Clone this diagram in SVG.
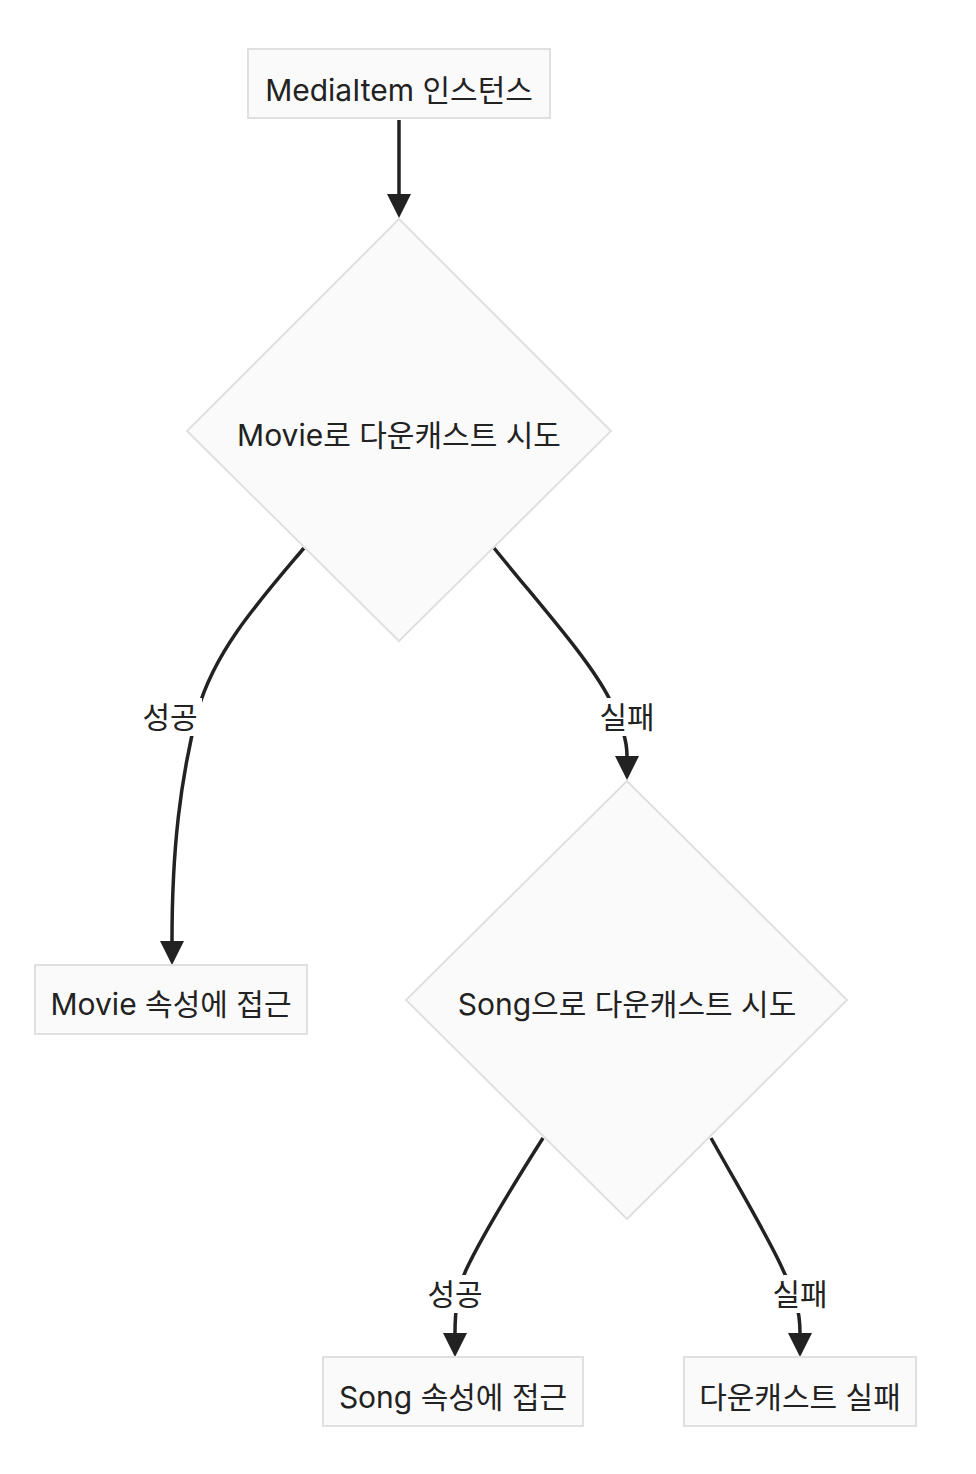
<svg xmlns="http://www.w3.org/2000/svg" width="976" height="1474" viewBox="0 0 976 1474">
<defs>
<style>
.node{fill:#fafafa;stroke:#e0e0e0;stroke-width:2}
.t{font-family:"Inter","Noto Sans CJK KR",sans-serif;font-size:30px;fill:#222;text-anchor:middle;dominant-baseline:central}
.edge{fill:none;stroke:#222;stroke-width:3.5}
.lbg{fill:#ffffff}
</style>
<marker id="ah" markerUnits="userSpaceOnUse" viewBox="0 0 12 12" markerWidth="24" markerHeight="24" refX="0" refY="6" orient="auto">
<path d="M0,0 L12,6 L0,12 z" fill="#222"/>
</marker>
</defs>
<rect width="976" height="1474" fill="#ffffff"/>
<g id="connectors">
<path class="edge" d="M399,120 L399,194" marker-end="url(#ah)"/>
<path class="edge" d="M304,548 C260,600 215,650 198,710 C180,780 172,850 172,941" marker-end="url(#ah)"/>
<path class="edge" d="M494,548 C540,605 590,660 610,700 C622,725 627,740 627,756" marker-end="url(#ah)"/>
<path class="edge" d="M543,1138 C510,1190 480,1240 466,1270 C457,1290 455,1310 455,1333" marker-end="url(#ah)"/>
<path class="edge" d="M711,1138 C740,1190 770,1240 783,1270 C795,1295 800,1310 800,1333" marker-end="url(#ah)"/>
<g id="edge-labels">
<rect class="lbg" x="138" y="698" width="64" height="38"/>
<text class="t" x="170" y="717">성공</text>
<rect class="lbg" x="595" y="698" width="64" height="38"/>
<text class="t" x="627" y="717">실패</text>
<rect class="lbg" x="423" y="1275" width="64" height="38"/>
<text class="t" x="455" y="1294">성공</text>
<rect class="lbg" x="768" y="1275" width="64" height="38"/>
<text class="t" x="800" y="1294">실패</text>
</g>
</g>
<g id="n1">
<rect class="node" x="248" y="49" width="302" height="69"/>
<text class="t" x="399" y="90">MediaItem 인스턴스</text>
</g>
<g id="n2">
<polygon class="node" points="399,219 611,431 399,641 187,431"/>
<text class="t" x="399" y="435">Movie로 다운캐스트 시도</text>
</g>
<g id="n3">
<rect class="node" x="35" y="965" width="272" height="69"/>
<text class="t" x="171" y="1004">Movie 속성에 접근</text>
</g>
<g id="n4">
<polygon class="node" points="627,781 847,1000 627,1219 406,1000"/>
<text class="t" x="627" y="1004">Song으로 다운캐스트 시도</text>
</g>
<g id="n5">
<rect class="node" x="323" y="1357" width="260" height="69"/>
<text class="t" x="453" y="1397">Song 속성에 접근</text>
</g>
<g id="n6">
<rect class="node" x="684" y="1357" width="232" height="69"/>
<text class="t" x="800" y="1397">다운캐스트 실패</text>
</g>
</svg>
